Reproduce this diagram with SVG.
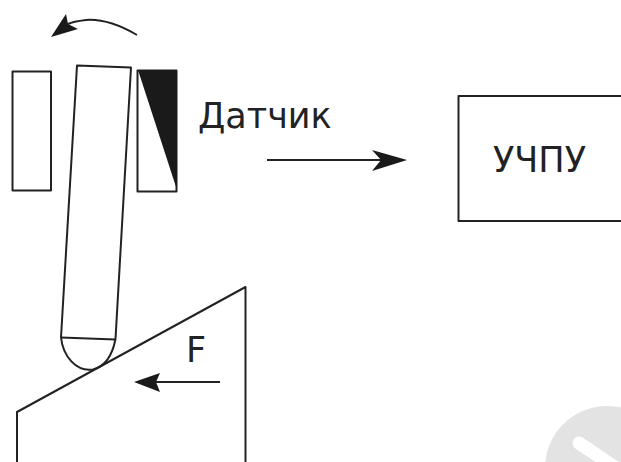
<svg xmlns="http://www.w3.org/2000/svg" width="621" height="462" viewBox="0 0 621 462">
<style>
.l{fill:none;stroke:#222;stroke-width:2;stroke-linejoin:round}
.h{fill:#1a1a1a;stroke:none}
text{font-family:"DejaVu Sans",sans-serif;fill:#222;font-size:35px}
</style>
<rect width="621" height="462" fill="#fff"/>
<g id="watermark">
<circle cx="607" cy="468" r="62" fill="#e3e3e3"/>
<path d="M579 443L625 474" stroke="#fff" stroke-width="13" stroke-linecap="round" fill="none"/>
</g>
<g id="left-block"><rect class="l" x="12.500" y="71.500" width="38.500" height="119"/></g>
<g id="sensor">
<rect class="l" x="137.500" y="70.500" width="39" height="121"/>
<path class="h" d="M138 70H177V190Z"/>
</g>
<g id="tool">
<path class="l" d="M77 65.500L131 67.500L115.500 339C113 352 107 366 93 369.500C76 372 63 356 61 337.500Z"/>
<path class="l" d="M61 337.500L115.500 339.500"/>
</g>
<g id="workpiece">
<path class="l" d="M17 462V412L245.500 287V462"/>
</g>
<g id="ucpu">
<path class="l" d="M621 96H458.500V221H621"/>
<text x="493" y="172">УЧПУ</text>
</g>
<g id="connectors">
<path class="l" d="M137 35C118 24 100 19 86 20C78 21 72 22 68 24"/>
<path class="h" d="M51 37L66 14L68 24L78 29Z"/>
<path class="l" d="M267 160H385"/>
<path class="h" d="M407 160L372 150L381 160L372 171Z"/>
<path class="l" d="M220 382H150"/>
<path class="h" d="M134 382L160 373L156 382L160 392Z"/>
</g>
<g id="labels">
<text x="198" y="128">Датчик</text>
<text x="186" y="362">F</text>
</g>
</svg>
